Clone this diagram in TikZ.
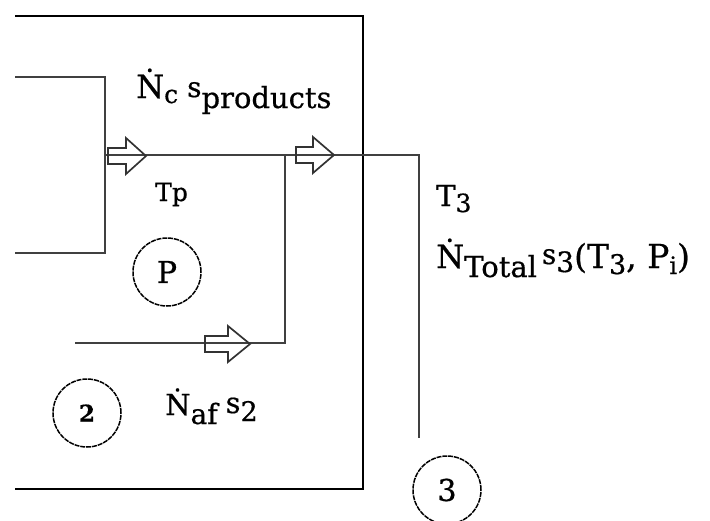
\documentclass[tikz,border=0pt]{standalone}
\usepackage{fontspec}
\setmainfont{DejaVu Serif}[FakeBold=0.6]
\newcommand{\fsz}[1]{\fontsize{#1}{#1}\selectfont}
\newcommand{\low}[3]{\raisebox{-#1pt}{\fsz{#2}#3}}
\newcommand{\high}[3]{\raisebox{#1pt}{\fsz{#2}#3}}
\begin{document}
\begin{tikzpicture}[x=1pt,y=-1pt,
  boxline/.style={draw=black, line width=2pt},
  flowline/.style={draw=black!75, line width=2.3pt},
  arrowline/.style={draw=black!80, line width=1.7pt, line join=miter},
  zone/.style={circle, draw=black, line width=1.5pt, dash pattern=on 5pt off 0.9pt, minimum size=68pt, inner sep=0pt, font=\fsz{30}},
  lbl/.style={anchor=base west, inner sep=0pt}]
\useasboundingbox (0,0) rectangle (710,520);
% outer control volume
\coordinate (o1) at (15,16);
\coordinate (o2) at (363,16);
\coordinate (o3) at (363,489);
\coordinate (o4) at (15,489);
\draw[boxline] (o1) -- (o2) -- (o3) -- (o4);
% inner combustor
\coordinate (i1) at (15,77);
\coordinate (i2) at (105,77);
\coordinate (i3) at (105,253);
\coordinate (i4) at (15,253);
\draw[flowline] (i1) -- (i2) -- (i3) -- (i4);
% main flow line
\coordinate (m0) at (105,155);
\coordinate (m1) at (419,155);
\coordinate (m2) at (419,438);
\draw[flowline] (m0) -- (m1) -- (m2);
% air branch
\coordinate (b0) at (285,155);
\coordinate (b1) at (285,343);
\coordinate (b2) at (75,343);
\draw[flowline] (b2) -- (b1) -- (b0);
% hollow arrows
\newcommand{\hollowarrow}[4]{%
  \draw[arrowline] (#1,#4-8) -- (#2,#4-8) -- (#2,#4-18) -- (#3,#4) -- (#2,#4+18) -- (#2,#4+8) -- (#1,#4+8) -- cycle;}
\hollowarrow{108}{126}{146}{156}
\hollowarrow{296}{313}{334}{155}
\hollowarrow{205}{228}{250}{344}
% zones
\node[zone] (zp) at (167,272) {P};
\node[zone] (z2) at (87,413) {\fsz{23}\textbf{2}};
\node[zone] (z3) at (447,490) {3};
% labels
\node[lbl] (lc) at (136,98) {\fsz{32}Ṅ\low{5}{25}{c}\hspace{9pt}\high{1}{28}{s}\low{10}{29}{products}};
\node[lbl] (ltp) at (155,201) {\fsz{25}Tp};
\node[lbl] (lt3) at (436,206) {\fsz{29}T\low{6}{25}{3}};
\node[lbl] (ltot) at (436,268) {\fsz{32}Ṅ\low{9}{29}{Total}\hspace{5pt}\high{4}{28}{s}\low{4}{28}{3}\fsz{33}(T\low{6}{27}{3}, P\low{6}{24}{i})};
\node[lbl] (laf) at (165,415) {\fsz{29}Ṅ\low{9}{28}{af}\hspace{8pt}\high{2}{29}{s}\low{6}{27}{2}};
\end{tikzpicture}
\end{document}
